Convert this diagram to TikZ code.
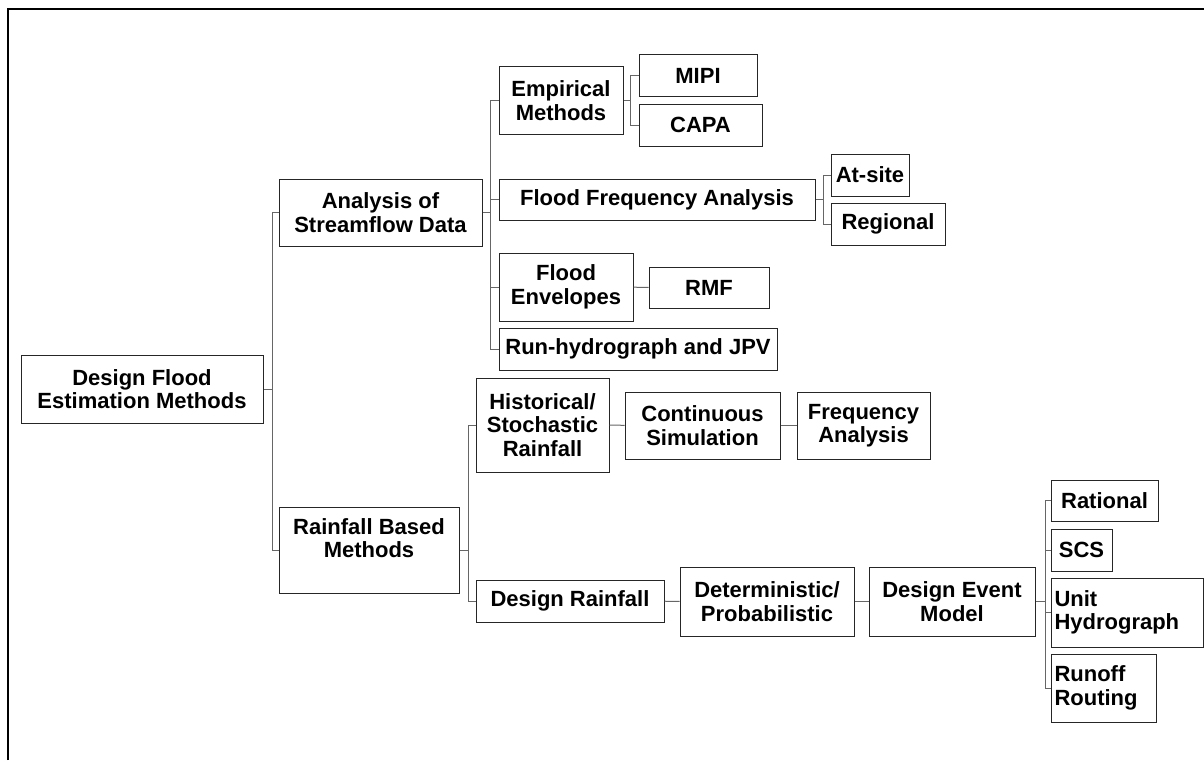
\documentclass[tikz,border=0pt]{standalone}
\usepackage{fontspec}
\setmainfont{Liberation Sans}
\usetikzlibrary{positioning}

\begin{document}
\begin{tikzpicture}[x=1pt,y=-1pt,
                    box/.style 2 args={draw=black!85,line width=1pt,fill=white,align=center,
                      inner xsep=3.5pt,inner ysep=2pt,minimum width=#1,minimum height=#2,
                      font=\bfseries\fontsize{22}{23.5}\selectfont},
                    leftbox/.style={align=left,text width=#1},
                    link/.style={draw=black!60,line width=1pt}]

  \useasboundingbox (0,0) rectangle (1204,760);
  \draw[line width=1.3pt] (8,760) -- (8,9) -- (1204,9);

  % first level
  \node[box={242}{68}] (dfem) at (142,389) {Design Flood\\Estimation Methods};
  \node[box={203}{67}] (asd) at (380.5,212.5) {Analysis of\\Streamflow Data};
  \node[box={180}{86}] (rbm) at (369,550) {Rainfall Based\\Methods\\ };

  % streamflow branch
  \node[box={124}{67}] (emp) at (561,100.5) {Empirical\\Methods};
  \node[box={118}{41}] (mipi) at (698,75.5) {MIPI};
  \node[box={123}{42}] (capa) at (700.5,125) {CAPA};
  \node[box={316}{41}] (ffa) at (657,199.5) {Flood Frequency Analysis};
  \node[box={78}{42}] (site) at (870,175) {At-site};
  \node[box={114}{42}] (reg) at (888,224) {Regional};
  \node[box={134}{68}] (env) at (566,287) {Flood\\Envelopes};
  \node[box={120}{41}] (rmf) at (709,287.5) {RMF};
  \node[box={278}{42}] (jpv) at (638,349) {Run-hydrograph and JPV};

  % rainfall branch
  \node[box={133}{94}] (hist) at (542.5,425) {Historical/\\Stochastic\\Rainfall};
  \node[box={155}{67}] (sim) at (702.5,425.5) {Continuous\\Simulation};
  \node[box={133}{67}] (freq) at (863.5,425.5) {Frequency\\Analysis};
  \node[box={188}{42}] (drain) at (570,601) {Design Rainfall};
  \node[box={174}{69}] (det) at (767,601.5) {Deterministic/\\Probabilistic};
  \node[box={166}{69}] (dem) at (952,601.5) {Design Event\\Model};
  \node[box={107}{41}] (rat) at (1104.5,500.5) {Rational};
  \node[box={61}{42}] (scs) at (1081.5,550) {SCS};
  \node[box={152}{69},leftbox=145pt] (uh) at (1127,612.5) {Unit\\Hydrograph};
  \node[box={105}{68},leftbox=98pt] (rr) at (1103.5,688) {Runoff\\Routing};

  % junctions
  \coordinate (j1) at (272,389);
  \coordinate (j2) at (490,212.5);
  \coordinate (j3) at (630,100.5);
  \coordinate (j4) at (823,199.5);
  \coordinate (j5) at (468,550);
  \coordinate (j6) at (1045,601.5);

  \path[link] (dfem.east) -- (j1)
    (asd.west) -| (j1)
    (rbm.west) -| (j1);

  \path[link] (asd.east) -- (j2)
    (emp.west) -| (j2)
    (ffa.west) -| (j2)
    (env.west) -| (j2)
    (jpv.west) -| (j2);

  \path[link] (emp.east) -- (j3)
    (mipi.west) -| (j3)
    (capa.west) -| (j3);

  \path[link] (ffa.east) -- (j4)
    (site.west) -| (j4)
    (reg.west) -| (j4);

  \path[link] (env) edge (rmf);

  \path[link] (rbm.east) -- (j5)
    (hist.west) -| (j5)
    (drain.west) -| (j5);

  \path[link] (hist) edge (sim)
    (sim) edge (freq)
    (drain) edge (det)
    (det) edge (dem);

  \path[link] (dem.east) -- (j6)
    (rat.west) -| (j6)
    (scs.west) -| (j6)
    (uh.west) -| (j6)
    (rr.west) -| (j6);
\end{tikzpicture}
\end{document}
